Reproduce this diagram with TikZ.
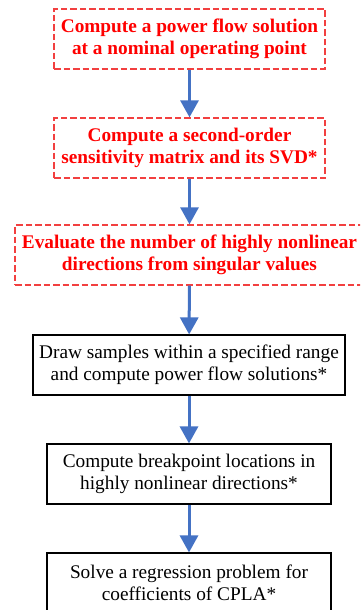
\documentclass[tikz,border=0pt]{standalone}
\usepackage{fontspec}
\setmainfont{Liberation Serif}
\newfontfamily\tnr{Liberation Serif}
\usetikzlibrary{arrows.meta}
\definecolor{flowblue}{HTML}{4472C4}
\definecolor{dashred}{HTML}{F24040}
\begin{document}
\begin{tikzpicture}[x=1pt,y=-1pt,
  redbox/.style={draw=dashred,line width=1.3pt,dash pattern=on 6.5pt off 3pt,text=red,
    font=\tnr\fontsize{19.3}{22}\selectfont\bfseries,align=center,inner sep=0pt,minimum height=60pt},
  blackbox/.style={draw=black,line width=1.1pt,
    font=\tnr\fontsize{19.3}{22}\selectfont,align=center,inner sep=0pt,minimum height=60pt},
  flow/.style={draw=flowblue,line width=3pt,-{Triangle[width=18pt,length=17pt]}}]
\clip (0,0) rectangle (360,610);
\node[redbox,minimum width=271pt] (b1) at (189.5,39) {Compute a power flow solution\\at a nominal operating point};
\node[redbox,minimum width=271pt] (b2) at (189.5,148) {Compute a second-order\\sensitivity matrix and its SVD*};
\node[redbox,minimum width=349pt] (b3) at (189.5,255) {Evaluate the number of highly nonlinear\\directions from singular values};
\node[blackbox,minimum width=312pt] (b4) at (189,365) {Draw samples within a specified range\\and compute power flow solutions*};
\node[blackbox,minimum width=284pt] (b5) at (189,474) {Compute breakpoint locations in\\highly nonlinear directions*};
\node[blackbox,minimum width=284pt] (b6) at (189,583) {Solve a regression problem for\\coefficients of CPLA*};
\draw[flow] (b1) -- (b2);
\draw[flow] (b2) -- (b3);
\draw[flow] (b3) -- (b4);
\draw[flow] (b4) -- (b5);
\draw[flow] (b5) -- (b6);
\end{tikzpicture}
\end{document}
